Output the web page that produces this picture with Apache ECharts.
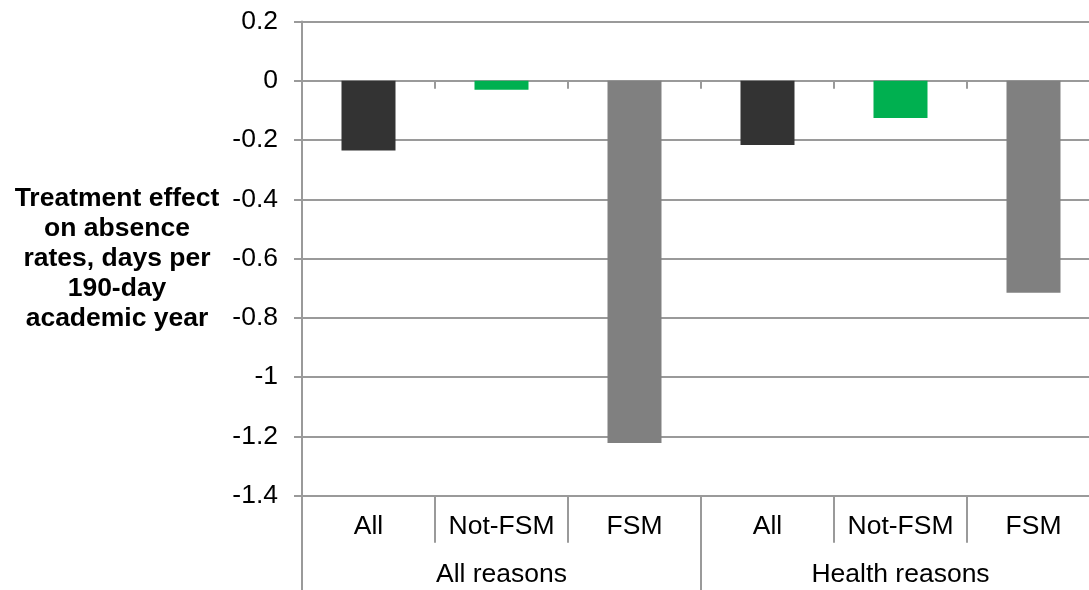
<!DOCTYPE html>
<html>
<head>
<meta charset="utf-8">
<script src="https://cdn.jsdelivr.net/npm/echarts@6/dist/echarts.min.js"></script>
<style>
html,body{margin:0;padding:0;background:#fff;overflow:hidden;width:1089px;height:590px;}
#chart{width:1100px;height:590px;}
</style>
</head>
<body>
<div id="chart"></div>
<script>
const categories = ['All', 'Not-FSM', 'FSM', 'All', 'Not-FSM', 'FSM'];
const groups = ['All reasons', 'Health reasons'];
const values = [-0.235, -0.03, -1.222, -0.217, -0.126, -0.715];
const barColors = ['#333333', '#00B050', '#808080', '#333333', '#00B050', '#808080'];
const yMin = -1.4, yMax = 0.2, yStep = 0.2;
const yTitle = 'Treatment effect\non absence\nrates, days per\n190-day\nacademic year';

const FONT = 'Liberation Sans, Arial, sans-serif';
const FS = 26.5;
const LINE = '#9a9a9a';

const chart = echarts.init(document.getElementById('chart'), null, {renderer: 'canvas'});
chart.setOption({
  animation: false,
  backgroundColor: '#ffffff',
  grid: {left: 302, right: 0, top: 21.5, bottom: 94.3, containLabel: false},
  xAxis: [
    {
      type: 'category', data: categories, position: 'bottom',
      axisLine: {show: true, onZero: true, lineStyle: {color: LINE, width: 2}},
      axisTick: {show: true, length: 8, lineStyle: {color: LINE, width: 2}},
      axisLabel: {show: false},
      splitLine: {show: false}
    },
    {
      type: 'category', data: categories, position: 'bottom', offset: 0,
      axisLine: {show: false, onZero: false},
      axisTick: {show: true, length: 47, lineStyle: {color: LINE, width: 2}},
      axisLabel: {show: true, interval: 0, margin: 17, fontSize: FS, color: '#000', fontFamily: FONT},
      splitLine: {show: false}
    },
    {
      type: 'category', data: groups, position: 'bottom', offset: 0,
      axisLine: {show: false, onZero: false},
      axisTick: {show: true, length: 95, lineStyle: {color: LINE, width: 2}},
      axisLabel: {show: true, interval: 0, margin: 65, fontSize: FS, color: '#000', fontFamily: FONT},
      splitLine: {show: false}
    }
  ],
  yAxis: {
    type: 'value', min: yMin, max: yMax, interval: yStep,
    axisLine: {show: true, lineStyle: {color: LINE, width: 2}},
    axisTick: {show: true, length: 8, lineStyle: {color: LINE, width: 2}},
    axisLabel: {
      margin: 24, fontSize: FS, color: '#000', fontFamily: FONT,
      formatter: v => String(parseFloat(v.toFixed(1)))
    },
    splitLine: {show: true, lineStyle: {color: LINE, width: 2}},
    name: yTitle,
    nameLocation: 'middle',
    nameRotate: 0,
    nameGap: 185,
    nameTextStyle: {
      fontSize: FS, fontWeight: 'bold', color: '#000', fontFamily: FONT,
      align: 'center', verticalAlign: 'middle', lineHeight: 30
    }
  },
  series: [{
    type: 'bar',
    xAxisIndex: 0,
    barWidth: '40.6%',
    data: values.map((v, i) => ({value: v, itemStyle: {color: barColors[i]}}))
  }]
});
</script>
</body>
</html>
